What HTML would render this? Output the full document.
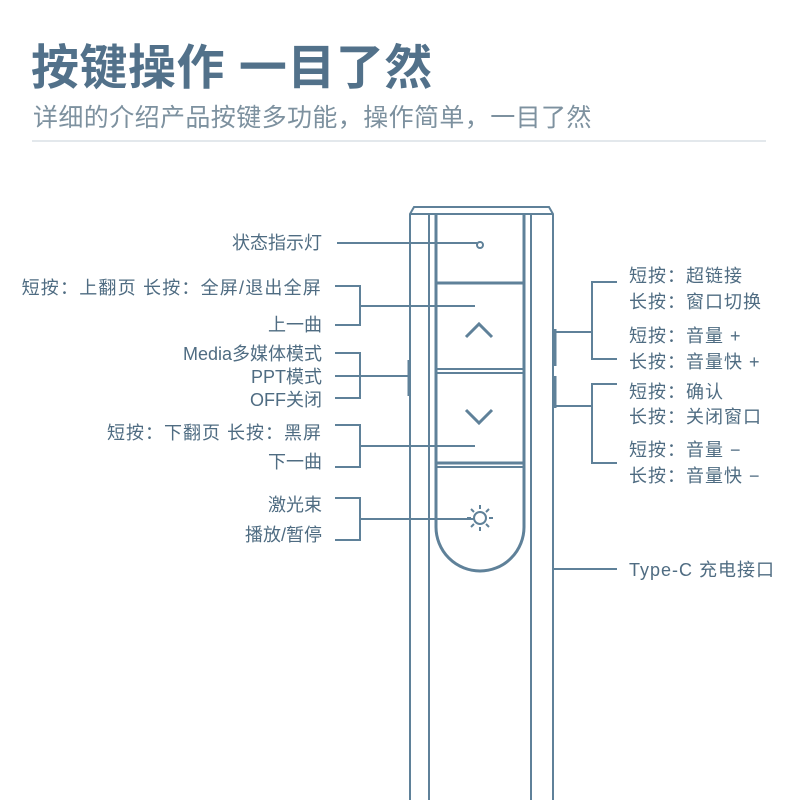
<!DOCTYPE html>
<html><head><meta charset="utf-8"><style>
body{margin:0;background:#fff}
svg text{font-family:"Liberation Sans","Noto Sans CJK SC",sans-serif;fill:#4f6c82}
</style></head><body>
<svg width="800" height="800" viewBox="0 0 800 800" xmlns="http://www.w3.org/2000/svg">
<text x="31" y="84" font-size="48" font-weight="bold" letter-spacing="0.5" style="fill:#52718a">按键操作 一目了然</text>
<text x="33" y="126" font-size="25" letter-spacing="0.4" style="fill:#7d919f">详细的介绍产品按键多功能，操作简单，一目了然</text>
<line x1="32" y1="141" x2="766" y2="141" stroke="#e3e8ec" stroke-width="2"/>
<g fill="none" stroke="#5f8199" stroke-width="2">
<path d="M410 800 V214 L414 207 H549 L553 214 V800"/>
<line x1="410" y1="214" x2="553" y2="214"/>
<line x1="429" y1="214" x2="429" y2="800"/>
<line x1="531" y1="214" x2="531" y2="800"/>
<path d="M436 214 V527 A44 44 0 0 0 524 527 V214" stroke-width="3"/>
<line x1="436" y1="283" x2="524" y2="283" stroke-width="3"/>
<line x1="436" y1="369" x2="524" y2="369" stroke-width="2"/>
<line x1="436" y1="373" x2="524" y2="373" stroke-width="2"/>
<line x1="436" y1="463" x2="524" y2="463" stroke-width="3"/>
<line x1="436" y1="467" x2="524" y2="467" stroke-width="2"/>
<line x1="555" y1="329" x2="555" y2="366" stroke-width="3"/>
<line x1="555" y1="376" x2="555" y2="408" stroke-width="3"/>
<line x1="409" y1="360" x2="409" y2="396" stroke-width="3"/>
<circle cx="480" cy="245" r="3"/>
<path d="M466 337 L479 324 L492 337" stroke-width="3"/>
<path d="M466 410 L479 423 L492 410" stroke-width="3"/>
<circle cx="480" cy="518" r="6"/>
<path d="M480 505v4M480 527v4M467 518h4M489 518h4M471 509l3 3M486 524l3 3M489 509l-3 3M474 524l-3 3"/>
<line x1="337" y1="243" x2="477" y2="243"/>
<path d="M335 286 H360 V325 H335 M360 306 H475"/>
<path d="M335 353 H360 V398 H335 M335 376 H409"/>
<path d="M335 425 H360 V467 H335 M360 446 H475"/>
<path d="M335 498 H360 V540 H335 M360 519 H474"/>
<path d="M617 282 H592 V359 H617 M556 332 H592"/>
<path d="M617 384 H592 V463 H617 M556 406 H592"/>
<line x1="553" y1="569" x2="617" y2="569"/>
</g>
<g font-size="18" text-anchor="end">
<text x="322" y="249">状态指示灯</text>
<text x="322" y="294" letter-spacing="1.2">短按：上翻页  长按：全屏/退出全屏</text>
<text x="322" y="331">上一曲</text>
<text x="322" y="360">Media多媒体模式</text>
<text x="322" y="383">PPT模式</text>
<text x="322" y="406">OFF关闭</text>
<text x="322" y="439" letter-spacing="1">短按：下翻页  长按：黑屏</text>
<text x="322" y="468">下一曲</text>
<text x="322" y="511">激光束</text>
<text x="322" y="541">播放/暂停</text>
</g>
<g font-size="18" letter-spacing="1">
<text x="629" y="282">短按：超链接</text>
<text x="629" y="308">长按：窗口切换</text>
<text x="629" y="342">短按：音量 +</text>
<text x="629" y="368">长按：音量快 +</text>
<text x="629" y="398">短按：确认</text>
<text x="629" y="423">长按：关闭窗口</text>
<text x="629" y="456">短按：音量 −</text>
<text x="629" y="482">长按：音量快 −</text>
<text x="629" y="576">Type-C 充电接口</text>
</g>
</svg>
</body></html>
